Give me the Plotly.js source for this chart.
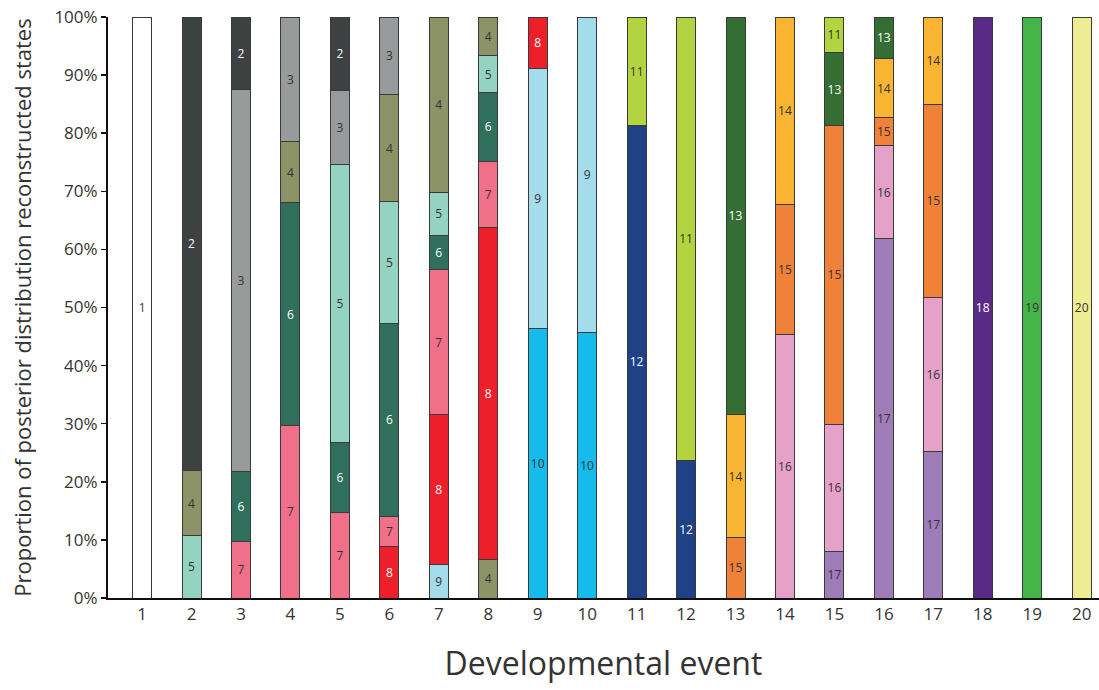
<!DOCTYPE html>
<html>
<head>
<meta charset="utf-8">
<script src="https://cdn.plot.ly/plotly-3.0.1.min.js"></script>
<style>html,body{margin:0;padding:0;background:#fff;}#chart{width:1099px;height:690px;}</style>
</head>
<body>
<div id="chart"></div>
<script>
// Developmental events (x categories)
const events = [1,2,3,4,5,6,7,8,9,10,11,12,13,14,15,16,17,18,19,20];

// States in each bar, listed bottom to top
const states = [
  [1],
  [5,4,2],
  [7,6,3,2],
  [7,6,4,3],
  [7,6,5,3,2],
  [8,7,6,5,4,3],
  [9,8,7,6,5,4],
  [4,8,7,6,5,4],
  [10,9,8],
  [10,9],
  [12,11],
  [12,11],
  [15,14,13],
  [16,15,14],
  [17,16,15,13,11],
  [17,16,15,14,13],
  [17,16,15,14],
  [18],
  [19],
  [20]
];

// Share (%) of each state, bottom to top
const shares = [
  [100],
  [10.8,11.1,78.1],
  [9.8,12.0,65.7,12.5],
  [29.7,38.3,10.5,21.5],
  [14.7,12.0,47.9,12.8,12.6],
  [8.8,5.3,33.1,21.1,18.3,13.4],
  [5.8,25.7,25.1,5.8,7.4,30.2],
  [6.6,57.1,11.5,11.8,6.3,6.7],
  [46.4,44.7,8.9],
  [45.7,54.3],
  [81.3,18.7],
  [23.7,76.3],
  [10.4,21.1,68.5],
  [45.4,22.4,32.2],
  [8.0,21.9,51.4,12.6,6.1],
  [61.9,15.9,4.9,10.1,7.2],
  [25.2,26.5,33.3,15.0],
  [100],
  [100],
  [100]
];

// Colour of each state (index = state number)
const stateColors = {
  1:'#ffffff', 2:'#3d4141', 3:'#989b9c', 4:'#8c9366', 5:'#93d3c0',
  6:'#2f6f5c', 7:'#ef7088', 8:'#ec1f2a', 9:'#a5dceb', 10:'#14bbeb',
  11:'#b3d341', 12:'#1f4287', 13:'#346e33', 14:'#f9b531', 15:'#f08139',
  16:'#e6a1c9', 17:'#9d7cb8', 18:'#5b2a87', 19:'#45b549', 20:'#eeed91'
};
const lightLabelStates = [2,6,8,12,13,18];

const yTickVals = [0,10,20,30,40,50,60,70,80,90,100];

const maxLevels = Math.max(...states.map(s => s.length));
const traces = [];
for (let k = 0; k < maxLevels; k++) {
  const y = [], colors = [], text = [], tcol = [];
  events.forEach((e, i) => {
    if (k < states[i].length) {
      const st = states[i][k];
      y.push(shares[i][k]);
      colors.push(stateColors[st]);
      text.push(String(st));
      tcol.push(lightLabelStates.includes(st) ? '#ffffff' : '#333333');
    } else {
      y.push(null); colors.push('#fff'); text.push(''); tcol.push('#333');
    }
  });
  traces.push({
    type: 'bar',
    x: events,
    y: y,
    width: 0.385,
    marker: {color: colors, line: {color: '#3a3a3a', width: 1}},
    text: text,
    textposition: 'inside',
    insidetextanchor: 'middle',
    textangle: 0,
    constraintext: 'none',
    textfont: {family: 'Open Sans, sans-serif', size: 12, color: tcol},
    hoverinfo: 'none',
    showlegend: false
  });
}

const layout = {
  width: 1099, height: 690,
  margin: {l: 108, r: 0, t: 17, b: 92},
  barmode: 'stack',
  paper_bgcolor: '#ffffff',
  plot_bgcolor: '#ffffff',
  uniformtext: {minsize: 12, mode: 'show'},
  font: {family: 'Open Sans, sans-serif', color: '#333333'},
  xaxis: {
    range: [0.31, 20.35],
    tickvals: events,
    ticktext: events.map(String),
    showgrid: false, zeroline: false,
    showline: true, linecolor: '#111111', linewidth: 2,
    ticks: '',
    tickfont: {size: 17, color: '#333333'},
    title: {text: 'Developmental event', font: {size: 32, color: '#333333'}, standoff: 28}
  },
  yaxis: {
    range: [0, 100],
    tickvals: yTickVals,
    ticktext: yTickVals.map(v => v + '%'),
    showgrid: false, zeroline: false,
    showline: true, linecolor: '#111111', linewidth: 2,
    ticks: 'outside', ticklen: 5, tickcolor: '#111111', tickwidth: 1.5,
    tickfont: {size: 17, color: '#333333'},
    title: {text: 'Proportion of posterior distribution reconstructed states', font: {size: 22, color: '#333333'}, standoff: 17}
  }
};

Plotly.newPlot('chart', traces, layout, {staticPlot: true, displayModeBar: false});
</script>
</body>
</html>
